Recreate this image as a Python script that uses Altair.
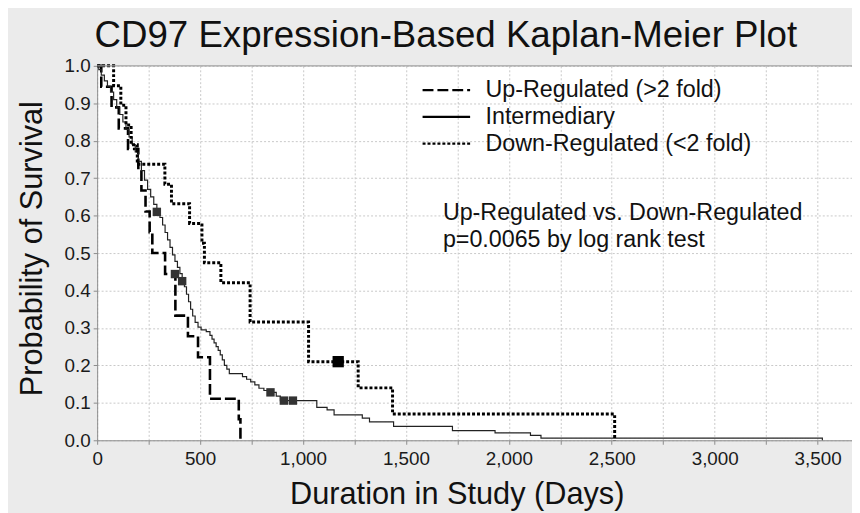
import altair as alt
import pandas as pd

# ---------------- data ----------------
series_names = ["Up-Regulated (>2 fold)", "Intermediary", "Down-Regulated (<2 fold)"]

up_days = [0, 20, 70, 105, 150, 200, 215, 235, 255, 268, 330, 380, 441, 490, 548, 688, 696]
up_surv = [1.0, 0.944, 0.889, 0.833, 0.778, 0.722, 0.667, 0.611, 0.556, 0.5,
           0.444, 0.333, 0.278, 0.222, 0.111, 0.056, 0.0]

int_days = [0, 8, 20, 35, 50, 65, 80, 95, 110, 125, 140, 155, 170, 185, 200, 215, 230,
            245, 260, 275, 290, 305, 318, 330, 342, 354, 366, 378, 390, 402, 413, 424,
            434, 444, 454, 464, 476, 490, 505, 530, 548, 558, 568, 578, 588, 598, 608,
            618, 630, 642, 706, 726, 746, 766, 786, 810, 830, 870, 890, 1067, 1117,
            1151, 1288, 1323, 1440, 1726, 1933, 2105, 2156, 3523]
int_surv = [1.0, 0.99, 0.975, 0.96, 0.945, 0.93, 0.91, 0.89, 0.87, 0.85, 0.83, 0.81,
            0.79, 0.77, 0.745, 0.72, 0.695, 0.67, 0.65, 0.63, 0.61, 0.595, 0.575, 0.555,
            0.535, 0.515, 0.495, 0.478, 0.462, 0.445, 0.425, 0.41, 0.39, 0.37, 0.35,
            0.332, 0.315, 0.302, 0.295, 0.29, 0.28, 0.27, 0.26, 0.25, 0.24, 0.228,
            0.215, 0.2, 0.19, 0.178, 0.17, 0.163, 0.156, 0.148, 0.139, 0.133, 0.128,
            0.118, 0.106, 0.088, 0.081, 0.068, 0.059, 0.049, 0.037, 0.026, 0.02,
            0.013, 0.006, 0.0]

down_days = [0, 80, 115, 140, 165, 195, 329, 361, 449, 509, 521, 601, 743, 1027,
             1268, 1435, 2514]
down_surv = [1.0, 0.947, 0.895, 0.842, 0.789, 0.737, 0.684, 0.632, 0.579, 0.526,
             0.474, 0.421, 0.316, 0.21, 0.14, 0.07, 0.0]

cens_series = ["Intermediary", "Up-Regulated (>2 fold)", "Intermediary", "Intermediary",
               "Intermediary", "Intermediary", "Down-Regulated (<2 fold)"]
cens_days = [290, 378, 413, 842, 907, 951, 1171]
cens_surv = [0.61, 0.444, 0.425, 0.128, 0.106, 0.106, 0.21]

x_tick_values = [0, 250, 500, 750, 1000, 1250, 1500, 1750, 2000, 2250, 2500, 2750,
                 3000, 3250, 3500]
y_tick_values = [0.0, 0.1, 0.2, 0.3, 0.4, 0.5, 0.6, 0.7, 0.8, 0.9, 1.0]

annotation_lines = ["Up-Regulated vs. Down-Regulated", "p=0.0065 by log rank test"]

# ---------------- tables ----------------
rows = []
for name, d, s in zip(series_names, [up_days, int_days, down_days],
                      [up_surv, int_surv, down_surv]):
    for t, v in zip(d, s):
        rows.append({"series": name, "days": t, "surv": v})
curves = pd.DataFrame(rows)
cens = pd.DataFrame({"series": cens_series, "days": cens_days, "surv": cens_surv})

FONT = "Liberation Sans"
AX = "#8c8c8c"

x_enc = alt.X(
    "days:Q",
    scale=alt.Scale(domain=[0, 3667], nice=False, zero=False),
    axis=alt.Axis(
        values=x_tick_values,
        format=",d",
        labelExpr="datum.value % 500 === 0 ? datum.label : ''",
        labelFlush=False,
        labelOverlap=False,
        title="Duration in Study (Days)",
        titleX=363,
        titleY=64,
        titleBaseline="alphabetic",
        labelPadding=5,
    ),
)
y_enc = alt.Y(
    "surv:Q",
    scale=alt.Scale(domain=[0, 1], nice=False),
    axis=alt.Axis(
        values=y_tick_values,
        format=".1f",
        labelOverlap=False,
        title="Probability of Survival",
        titleX=-56,
        titleY=184,
        titleBaseline="alphabetic",
        labelPadding=3,
    ),
)

dash_enc = alt.StrokeDash(
    "series:N",
    scale=alt.Scale(domain=series_names, range=[[11, 4], [1, 0], [3, 2]]),
    legend=alt.Legend(
        title=None,
        orient="none",
        legendX=327,
        legendY=11,
        symbolType="stroke",
        symbolSize=2304,
        symbolStrokeWidth=2.4,
        symbolStrokeColor="black",
        labelFontSize=23.5,
        labelFont=FONT,
        labelColor="#111",
        labelOffset=14,
        labelLimit=0,
        clipHeight=27,
        rowPadding=0,
        padding=0,
    ),
)

line_widths = [2.6, 1.2, 3.0]
line_colors = ["black", "#222222", "black"]
line_layers = []
for name, w, c in zip(series_names, line_widths, line_colors):
    line_layers.append(
        alt.Chart(curves)
        .transform_filter(alt.datum.series == name)
        .mark_line(interpolate="step-after", color=c, strokeWidth=w, strokeCap="butt")
        .encode(x=x_enc, y=y_enc, strokeDash=dash_enc)
    )

marks_small = alt.Chart(cens).transform_filter(
    alt.datum.series != series_names[2]
).mark_square(opacity=1, size=72, color="#333333").encode(x=x_enc, y=y_enc)

marks_big = alt.Chart(cens).transform_filter(
    alt.datum.series == series_names[2]
).mark_square(opacity=1, size=130, color="#000000").encode(x=x_enc, y=y_enc)

top_border = alt.Chart(pd.DataFrame({"surv": [1.0]})).mark_rule(
    color="#a0a0a0", strokeWidth=1.2
).encode(y=y_enc)

note = alt.Chart(pd.DataFrame({"k": [0]})).mark_text(
    text=annotation_lines, align="left", baseline="alphabetic", font=FONT,
    fontSize=23.5, lineHeight=27, color="#111"
).encode(x=alt.value(349), y=alt.value(156))

chart = alt.layer(*line_layers, top_border, marks_small, marks_big, note).properties(
    width=762,
    height=378,
    padding={"left": 90, "top": 56, "right": 0, "bottom": 71},
    autosize=alt.AutoSizeParams(type="none"),
    background="#ebebeb",
    title=alt.TitleParams(
        "CD97 Expression-Based Kaplan-Meier Plot",
        fontSize=37, font=FONT, fontWeight="normal", color="#111",
        anchor="middle", frame="group", dx=-29, offset=14, dy=41,
        baseline="alphabetic",
    ),
).configure_view(fill="white", stroke=None).configure_axis(
    labelFont=FONT,
    titleFont=FONT,
    labelFontSize=19,
    labelColor="#1a1a1a",
    titleFontSize=31,
    titleFontWeight="normal",
    titleColor="#111",
    domainColor=AX,
    tickColor=AX,
    tickSize=4,
    gridColor="#c8c8c8",
    gridDash=[2, 2],
    gridWidth=1,
    labelOverlap=False,
)

chart.save("out.html", embed_options={"renderer": "svg", "actions": False})
